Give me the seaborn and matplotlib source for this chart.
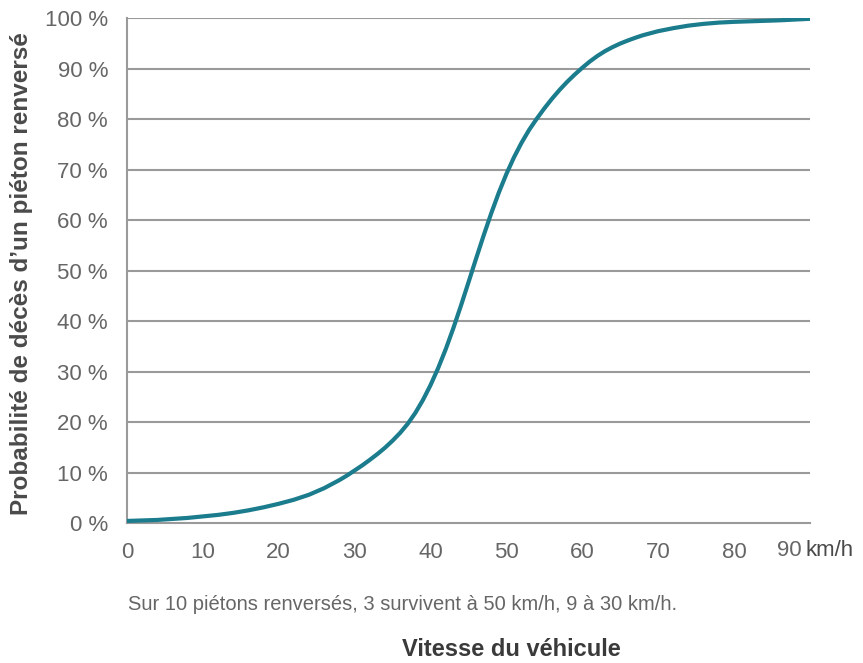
import numpy as np
import pandas as pd
import matplotlib
matplotlib.use("Agg")
import matplotlib.pyplot as plt
import seaborn as sns

# vitesse (km/h) et probabilite de deces (%)
vitesse = [0, 2, 4, 6, 8, 10, 12, 14, 16, 18, 20, 22, 24, 26, 28, 29,
           30, 31, 32, 33, 34, 35, 36, 37, 38, 39, 40, 41, 42, 43, 44, 45,
           46, 47, 48, 49, 50, 51, 52, 53, 54, 55, 56, 57, 58, 59, 60,
           61, 62, 63, 64, 65, 66, 67, 68, 69, 70, 72, 74, 76, 78, 80,
           82, 84, 86, 88, 90]
proba = [0.4, 0.5, 0.6, 0.8, 1.0, 1.3, 1.6, 2.0, 2.5, 3.1, 3.8, 4.6, 5.6, 6.9, 8.5, 9.4,
         10.4, 11.4, 12.5, 13.65, 14.9, 16.3, 17.85, 19.65, 21.8, 24.35, 27.3, 30.65, 34.4, 38.55, 43.0, 47.65,
         52.35, 56.95, 61.35, 65.45, 69.15, 72.45, 75.35, 77.9, 80.1, 82.15, 84.05, 85.8, 87.4, 88.85, 90.2,
         91.45, 92.55, 93.5, 94.3, 95.0, 95.6, 96.15, 96.65, 97.05, 97.45, 98.05, 98.55, 98.9, 99.15, 99.3,
         99.4, 99.5, 99.6, 99.75, 99.9]
x_ticks = [0, 10, 20, 30, 40, 50, 60, 70, 80, 90]
y_ticks = [0, 10, 20, 30, 40, 50, 60, 70, 80, 90, 100]

df = pd.DataFrame({"vitesse": vitesse, "proba": proba})

sns.set_style("white")
plt.rcParams['font.family'] = ['Liberation Sans', 'DejaVu Sans']

grey = "#9a9a9a"
txt = "#666666"

fig = plt.figure(figsize=(8.63, 6.63), dpi=100)
ax = fig.add_axes([0.147, 0.2112, 0.7916, 0.7612])

for v in y_ticks[1:]:
    ax.axhline(v, color=grey, lw=1.5, zorder=1)

sns.lineplot(data=df, x="vitesse", y="proba", color="#1a7c8c", lw=3, ax=ax, zorder=3)

ax.set_xlim(0, 90)
ax.set_ylim(0, 100)
ax.set_xticks(x_ticks)
ax.set_yticks(y_ticks)
ax.set_xticklabels([str(t) for t in x_ticks[:-1]] + [""])
ax.set_yticklabels([f"{t} %" for t in y_ticks])
ax.tick_params(axis="x", length=7, width=1.5, color=grey, pad=7, labelsize=16, labelcolor=txt)
ax.tick_params(axis="y", length=6.5, width=1.5, color=grey, pad=7, labelsize=16, labelcolor=txt)
ax.set_xlabel("")
ax.set_ylabel("")

for s in ["top", "right"]:
    ax.spines[s].set_visible(False)
for s in ["left", "bottom"]:
    ax.spines[s].set_color(grey)
    ax.spines[s].set_linewidth(1.5)

# dernier label "90 km/h"
ax.annotate("90", xy=(90, 0), xycoords="data", xytext=(-6, -12.5), textcoords="offset points",
            ha="right", va="top", fontsize=16, color=txt, annotation_clip=False)
ax.annotate("km/h", xy=(90, 0), xycoords="data", xytext=(-3, -12.5), textcoords="offset points",
            ha="left", va="top", fontsize=16, color="#4a4a4a", annotation_clip=False)

fig.text(22 / 863, 0.588, "Probabilité de décès d’un piéton renversé", rotation=90,
         ha="center", va="center", fontsize=17.5, fontweight="bold", color="#4a4a4a")
fig.text(128 / 863, 1 - 605 / 663, "Sur 10 piétons renversés, 3 survivent à 50 km/h, 9 à 30 km/h.",
         ha="left", va="center", fontsize=14.5, color=txt)
fig.text(511 / 863, 1 - 650 / 663, "Vitesse du véhicule", ha="center", va="center",
         fontsize=17, fontweight="bold", color="#3a3a3a")

fig.savefig("out.png", dpi=100)
